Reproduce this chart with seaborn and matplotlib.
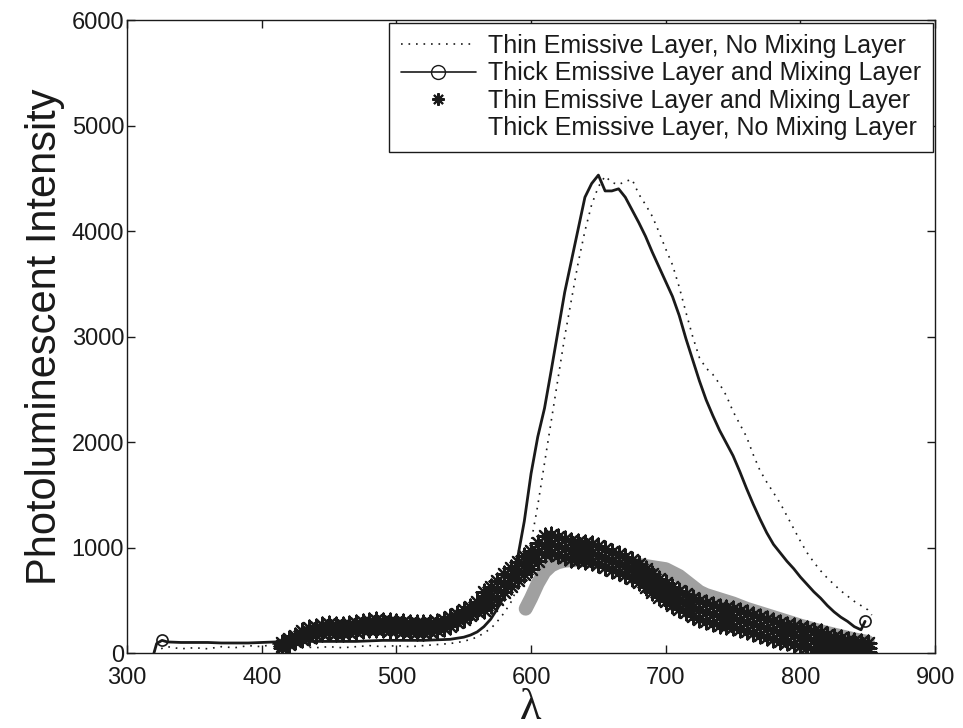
import matplotlib
matplotlib.use("Agg")
import matplotlib.pyplot as plt
from matplotlib.lines import Line2D
import seaborn as sns

# wavelength grids (nm)
wl_thin_nomix = [320, 330, 340, 350, 360, 370, 380, 390, 400, 410, 420, 430, 440, 450, 460,
                 470, 480, 490, 500, 510, 520, 530, 540, 550, 560, 570, 575, 580, 585, 590,
                 595, 600, 605, 610, 615, 620, 625, 630, 635, 640, 645, 650, 655, 660, 665,
                 670, 675, 680, 685, 690, 695, 700, 705, 710, 715, 720, 725, 730, 735, 740,
                 745, 750, 755, 760, 765, 770, 775, 780, 785, 790, 795, 800, 805, 810, 815,
                 820, 825, 830, 835, 840, 845, 850, 853]
thin_nomix = [20, 60, 40, 50, 40, 60, 50, 70, 60, 90, 70, 60, 50, 60, 50,
              60, 70, 60, 70, 60, 70, 80, 90, 110, 150, 230, 300, 380, 480, 620,
              800, 1050, 1400, 1800, 2200, 2600, 3000, 3350, 3700, 4000, 4250, 4420, 4520, 4460, 4440,
              4470, 4490, 4350, 4250, 4140, 3990, 3830, 3680, 3470, 3230, 3000, 2800, 2700, 2640, 2550,
              2440, 2290, 2170, 2050, 1880, 1730, 1620, 1520, 1420, 1300, 1180, 1060, 950, 860, 780,
              710, 650, 590, 540, 490, 450, 410, 360]

wl_thick_mix = [320, 322, 326, 330, 340, 350, 360, 370, 380, 390, 400, 410, 420, 430, 440,
                450, 460, 470, 480, 490, 500, 510, 520, 530, 540, 550, 555, 560, 565, 570,
                575, 580, 585, 590, 595, 600, 605, 610, 615, 620, 625, 630, 635, 640, 645,
                650, 655, 660, 665, 670, 675, 680, 685, 690, 695, 700, 705, 710, 715, 720,
                725, 730, 735, 740, 745, 750, 755, 760, 765, 770, 775, 780, 785, 790, 795,
                800, 805, 810, 815, 820, 825, 830, 835, 840, 845, 848]
thick_mix = [0, 90, 120, 105, 100, 100, 100, 95, 95, 95, 100, 105, 110, 110, 110,
             110, 110, 110, 115, 120, 120, 120, 120, 125, 130, 150, 170, 200, 250, 320,
             420, 540, 700, 900, 1250, 1700, 2050, 2320, 2680, 3050, 3420, 3720, 4020, 4320, 4450,
             4530, 4380, 4380, 4400, 4320, 4200, 4080, 3950, 3800, 3660, 3520, 3380, 3200, 2980, 2780,
             2580, 2400, 2250, 2110, 1990, 1870, 1720, 1560, 1410, 1270, 1140, 1030, 950, 870, 800,
             720, 650, 580, 520, 450, 390, 340, 300, 250, 220, 300]

# thin emissive + mixing layer: upper edge, middle and lower edge of the asterisk band
wl_thin_mix = list(range(415, 855, 5))
thin_mix_hi = [95, 135, 165, 210, 235, 250, 265, 275, 270, 265, 275, 285, 295, 305, 310,
               305, 300, 295, 290, 285, 280, 280, 285, 295, 315, 340, 370, 405, 440, 480,
               575, 625, 685, 745, 805, 865, 915, 965, 1045, 1105, 1115, 1100, 1080, 1065, 1050,
               1040, 1030, 1015, 990, 960, 935, 910, 885, 845, 795, 745, 700, 660, 625, 590,
               555, 525, 495, 475, 455, 440, 430, 420, 400, 380, 360, 340, 320, 300, 285,
               270, 255, 240, 225, 210, 195, 170, 155, 140, 125, 115, 105, 95]
thin_mix_mid = [70, 110, 140, 170, 195, 210, 225, 235, 230, 225, 235, 245, 255, 265, 270,
                265, 260, 255, 250, 245, 240, 240, 245, 255, 275, 300, 330, 365, 400, 440,
                490, 540, 600, 660, 720, 780, 830, 880, 960, 1020, 1030, 1015, 995, 980, 965,
                955, 945, 930, 905, 875, 850, 825, 800, 760, 710, 660, 615, 575, 540, 505,
                470, 440, 410, 390, 370, 355, 345, 335, 315, 295, 275, 255, 235, 215, 200,
                185, 170, 155, 140, 125, 112, 100, 90, 80, 72, 65, 58, 50]
thin_mix_lo = [45, 85, 115, 130, 155, 170, 185, 195, 190, 185, 195, 205, 215, 225, 230,
               225, 220, 215, 210, 205, 200, 200, 205, 215, 235, 260, 290, 325, 360, 400,
               405, 455, 515, 575, 635, 695, 745, 795, 875, 935, 945, 930, 910, 895, 880,
               870, 860, 845, 820, 790, 765, 740, 715, 675, 625, 575, 530, 490, 455, 420,
               385, 355, 325, 305, 285, 270, 260, 250, 230, 210, 190, 170, 150, 130, 115,
               100, 85, 70, 55, 40, 30, 20, 15, 10, 10, 10, 10, 10]

wl_thick_nomix = [596, 600, 605, 610, 615, 620, 625, 630, 640, 650, 660, 670, 680, 690, 700,
                  710, 720, 725, 730, 740, 750, 760, 770, 780, 790, 800, 810, 820, 830, 840,
                  850]
thick_nomix = [420, 520, 660, 770, 830, 860, 875, 880, 880, 870, 860, 850, 835, 815, 795,
               730, 630, 580, 550, 510, 470, 420, 380, 340, 300, 260, 225, 190, 160, 130,
               105]

labels = ["Thin Emissive Layer, No Mixing Layer",
          "Thick Emissive Layer and Mixing Layer",
          "Thin Emissive Layer and Mixing Layer",
          "Thick Emissive Layer, No Mixing Layer"]

sns.set_theme(style="ticks")
plt.rcParams['font.family'] = ['Liberation Sans', 'DejaVu Sans']
plt.rcParams['text.color'] = 'k'
plt.rcParams['axes.labelcolor'] = 'k'
plt.rcParams['axes.linewidth'] = 1.0

fig = plt.figure(figsize=(9.63, 7.28), dpi=100)
ax = fig.add_axes([0.1319, 0.103, 0.8391, 0.8695])

asterisk = (8, 2, 0)
dots = (0, (1, 3.5))

# grey band (lightly printed series)
sns.lineplot(x=wl_thick_nomix, y=thick_nomix, color='#a0a0a0', lw=10,
             solid_capstyle='round', estimator=None, sort=False, ax=ax, zorder=1)
sns.lineplot(x=wl_thin_nomix, y=thin_nomix, color='k', lw=1.2, linestyle=dots,
             estimator=None, sort=False, ax=ax, zorder=2)
sns.lineplot(x=wl_thick_mix, y=thick_mix, color='k', lw=2.0, estimator=None, sort=False,
             marker='o', markersize=8, mfc='none', mec='k', mew=1.2,
             markevery=[2, len(wl_thick_mix) - 1], ax=ax, zorder=3)
for vals in (thin_mix_hi, thin_mix_mid, thin_mix_lo):
    sns.scatterplot(x=wl_thin_mix, y=vals, marker=asterisk, s=130, color='k',
                    linewidth=1.6, ax=ax, zorder=4)

ax.set_xlim(300, 900)
ax.set_ylim(0, 6000)
ax.set_xticks(range(300, 901, 100))
ax.set_yticks(range(0, 6001, 1000))
ax.tick_params(direction='in', top=True, right=True, length=6, width=1,
               labelsize=17, colors='k')
ax.tick_params(axis='x', pad=10)
ax.tick_params(axis='y', pad=2)
for sp in ax.spines.values():
    sp.set_color('k')
    sp.set_linewidth(1.0)

ax.set_ylabel("Photoluminescent Intensity", fontsize=30, labelpad=5, color='k')
ax.set_xlabel("λ", fontsize=32, family=['Liberation Serif', 'DejaVu Serif'], color='k',
              va='center')
ax.xaxis.set_label_coords(0.5, -0.087)

handles = [
    Line2D([], [], color='k', lw=1.2, linestyle=dots),
    Line2D([], [], color='k', lw=1.2, marker='o', markersize=10, mfc='none', mec='k'),
    Line2D([], [], color='k', ls='none', marker=asterisk, markersize=9, mew=1.5),
    Line2D([], [], color='none', ls='none'),
]
leg = ax.legend(handles, labels, loc='upper right', fontsize=18, frameon=True,
                fancybox=False, framealpha=1, edgecolor='k', borderaxespad=0.1,
                borderpad=0.45, labelspacing=0.14, handlelength=3.0, handletextpad=0.5)
leg.get_frame().set_linewidth(1.0)

fig.savefig("out.png", dpi=100)
